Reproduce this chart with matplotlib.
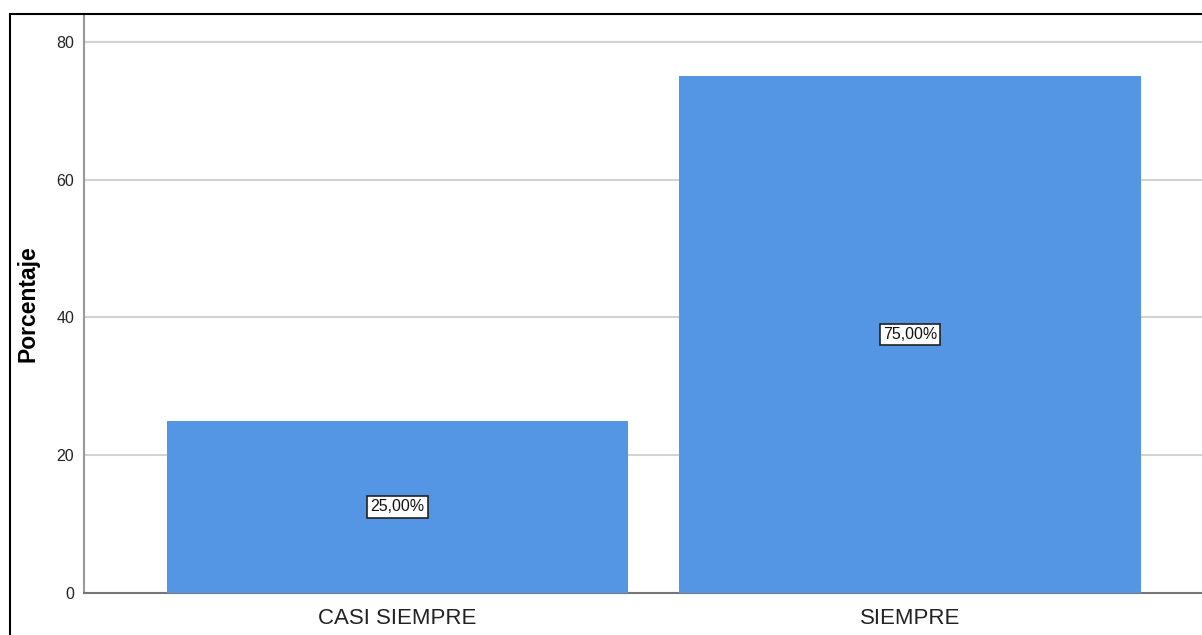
import matplotlib.pyplot as plt
from matplotlib.patches import Rectangle

plt.rcParams["font.family"] = ["Liberation Sans", "DejaVu Sans"]

categorias = ["CASI SIEMPRE", "SIEMPRE"]
porcentajes = [25.0, 75.0]
etiquetas = ["25,00%", "75,00%"]
yticks = [0, 20, 40, 60, 80]

W, H = 1202, 635
fig = plt.figure(figsize=(W / 100, H / 100), dpi=100)

# axes: left spine x=84, bottom y=593, top y=14, right beyond figure edge
x0, x1 = 84, 1223.5
y0, y1 = 593, 14
ax = fig.add_axes([x0 / W, 1 - y0 / H, (x1 - x0) / W, (y0 - y1) / H])

pos = list(range(len(categorias)))
ax.bar(pos, porcentajes, width=0.9, color="#5596e4", edgecolor="none", zorder=3)

for p, v, t in zip(pos, porcentajes, etiquetas):
    ax.text(p, v / 2, t, ha="center", va="center", fontsize=11.5, zorder=4,
            color="#111111",
            bbox=dict(boxstyle="square,pad=0.2", fc="white", ec="#222222", lw=1.2))

ax.set_xlim(-0.6117, 1.6117)
ax.set_ylim(0, 84.06)
ax.set_yticks(yticks)
ax.set_xticks(pos)
ax.set_xticklabels(categorias, fontsize=16, color="#222222")
ax.tick_params(axis="y", labelsize=11.5, length=0, pad=7, labelcolor="#222222")
ax.tick_params(axis="x", length=0, pad=11)
ax.grid(axis="y", color="#d2d2d2", linewidth=1.5, zorder=0)
ax.set_ylabel("Porcentaje", fontsize=16.5, fontweight="bold", labelpad=12)

for s in ["top", "right"]:
    ax.spines[s].set_visible(False)
ax.spines["left"].set_color("#999999")
ax.spines["bottom"].set_color("#777777")
ax.spines["left"].set_linewidth(1.5)
ax.spines["bottom"].set_linewidth(1.5)

# outer frame
fig.patches.append(Rectangle((10 / W, -0.1), 1.2, 1 - 14 / H + 0.1,
                             transform=fig.transFigure, fill=False,
                             edgecolor="black", linewidth=1.5, clip_on=False))

fig.savefig("out.png", dpi=100)
